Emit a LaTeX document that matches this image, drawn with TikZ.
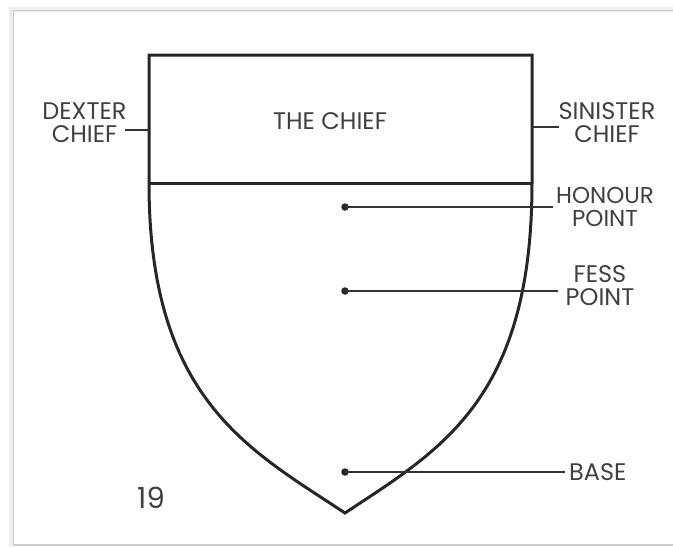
\documentclass[tikz,border=0pt]{standalone}
\usepackage{fontspec}
\setmainfont{Poppins}
\begin{document}
\begin{tikzpicture}[x=1pt,y=-1pt,
  outline/.style={draw=black!85, line width=3pt, line join=miter},
  leader/.style={draw=black!80, line width=1.2pt},
  lbl/.style={text=black!75, font=\fontsize{24}{23.5}\selectfont, align=center, inner sep=0pt},
  pointdot/.style={circle, fill=black!85, inner sep=0pt, minimum size=7.5pt},
  frameline/.style={draw=black!20, line width=1.6pt}]
\useasboundingbox (0,0) rectangle (673,547);
% frame
\draw[black!7, line width=5pt] (673,9) -- (11,9) -- (11,547);
\draw[frameline] (673,10.5) -- (13.5,10.5) -- (13.5,545) -- (673,545);
% shield
\path[outline] (149,183) -- (149,55) -- (532,55) -- (532,183)
  .. controls (532,400) and (440,450) .. (345,513)
  .. controls (250,450) and (149,400) .. (149,183) -- cycle;
\draw[outline] (149,183) -- (532,183);
% labels
\node[lbl] (chief) at (330,121) {THE CHIEF};
\node[lbl] (dexter) at (84.5,122.5) {DEXTER\\CHIEF};
\node[lbl] (sinister) at (607,122.5) {SINISTER\\CHIEF};
\node[lbl, font=\fontsize{23}{23.5}\selectfont] (honour) at (605,207) {HONOUR\\POINT};
\node[lbl] (fess) at (600,285.5) {FESS\\POINT};
\node[lbl, anchor=west] (base) at (569,472) {BASE};
\node[lbl, font=\fontsize{29}{30}\selectfont] (num) at (151,498) {19};
% points
\node[pointdot] (hdot) at (345,207) {};
\node[pointdot] (fdot) at (345,291) {};
\node[pointdot] (bdot) at (345,472) {};
\coordinate (dexside) at (149,130);
\coordinate (dexend) at (125,130);
\coordinate (sinside) at (533,127);
\coordinate (sinend) at (559,127);
\coordinate (hend) at (553,207);
\coordinate (fend) at (558,291);
\coordinate (bend) at (565,472);
% leaders
\draw[leader] (dexside) -- (dexend);
\draw[leader] (sinside) -- (sinend);
\draw[leader] (hdot.center) -- (hend);
\draw[leader] (fdot.center) -- (fend);
\draw[leader] (bdot.center) -- (bend);
\end{tikzpicture}
\end{document}
